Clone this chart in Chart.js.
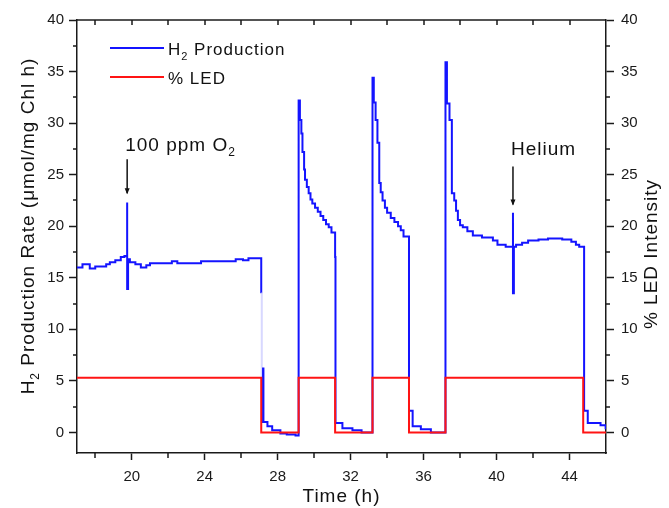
<!DOCTYPE html>
<html><head><meta charset="utf-8">
<script src="https://cdn.jsdelivr.net/npm/chart.js@4.4.1/dist/chart.umd.min.js"></script>
<style>html,body{margin:0;padding:0;background:#fff;}#wrap{width:669px;height:508px;}</style>
</head><body><div id="wrap"><canvas id="c" width="669" height="508"></canvas></div>
<script>
// ---- data ----
const h2Time = [17.0,17.3,17.7,18.0,18.6,18.8,19.1,19.4,19.6,19.75,19.75,19.8,19.9,20.2,20.5,20.8,21.0,22.2,22.5,23.8,25.7,26.1,26.4,
  27.1,27.13,27.2,27.22,27.44,27.7,28.15,28.5,28.98,
  29.15,29.22,29.3,29.36,29.45,29.5,29.6,29.7,29.8,29.9,30.05,30.2,30.35,30.5,30.65,30.8,30.95,
  31.15,31.17,31.55,32.1,32.6,
  33.2,33.27,33.37,33.47,33.57,33.65,33.75,33.88,34.0,34.2,34.4,34.6,34.75,34.9,
  35.2,35.4,35.85,36.4,
  37.2,37.28,37.42,37.55,37.68,37.78,37.88,38.0,38.15,38.4,38.7,39.2,39.8,40.05,40.5,40.9,40.9,40.95,41.07,41.4,41.73,42.3,42.82,43.6,44.1,44.35,44.53,
  44.8,45.0,45.7,45.98,46.0];
const h2Rate = [16.0,16.3,15.9,16.1,16.3,16.5,16.7,17.0,17.1,22.3,13.9,16.8,16.5,16.3,16.0,16.2,16.4,16.6,16.4,16.6,16.8,16.7,16.9,
  13.5,1.0,6.2,1.0,0.6,0.2,-0.1,-0.2,-0.3,
  32.2,30.3,29.0,27.2,25.5,24.5,23.8,23.2,22.6,22.2,21.8,21.4,21.0,20.6,20.2,19.9,19.4,
  17.0,0.9,0.4,0.2,0.0,
  34.4,32.0,30.3,28.1,24.2,23.3,22.5,21.8,21.3,20.8,20.4,20.0,19.6,19.0,
  2.1,0.6,0.3,0.0,
  35.9,31.9,30.3,23.2,22.5,21.5,20.6,20.1,19.9,19.5,19.1,18.9,18.6,18.2,18.0,21.3,13.5,18.0,18.2,18.4,18.6,18.7,18.8,18.7,18.5,18.2,18.0,
  2.1,0.9,0.7,0.4,0.4];
const ledTime = [17.0,27.1,29.15,31.15,33.2,35.2,37.2,44.75,46.0];
const ledPct  = [5.3,0,5.3,0,5.3,0,5.3,0,0];
const xMajorTicks = [20,24,28,32,36,40,44];
const xMinorTicks = [18,22,26,30,34,38,42];
const yMajorTicks = [0,5,10,15,20,25,30,35,40];
const yMinorTicks = [2.5,7.5,12.5,17.5,22.5,27.5,32.5,37.5];
const seriesNames = ['H₂ Production','% LED'];
const annotations = [
  {parts:[{t:'100 ppm O'},{t:'2',sub:true}], x:19.75, textY:27.3, arrowFrom:26.5, arrowTo:23.2},
  {parts:[{t:'Helium'}], x:40.9, textY:26.9, arrowFrom:25.8, arrowTo:22.1}
];

const FONT = '"Liberation Sans", Arial, sans-serif';
const AX = '#1a1a1a';

function richWidth(ctx, parts, size){
  let w=0;
  for(const p of parts){ ctx.font = (p.sub? Math.round(size*0.62): size)+'px '+FONT; w += ctx.measureText(p.t).width; }
  return w;
}
function drawRich(ctx, parts, x, y, size){
  let cx=x;
  for(const p of parts){
    ctx.font = (p.sub? Math.round(size*0.62): size)+'px '+FONT;
    ctx.fillText(p.t, cx, p.sub? y+size*0.28 : y);
    cx += ctx.measureText(p.t).width;
  }
}

const decor = {
  id:'decor',
  afterDatasetsDraw(chart){
    const {ctx, chartArea:a, scales} = chart;
    const xs=scales.x, ys=scales.y, ys1=scales.y1;
    ctx.save();
    ctx.strokeStyle=AX; ctx.lineWidth=1.5;
    ctx.beginPath(); ctx.moveTo(a.left, a.top); ctx.lineTo(a.right, a.top); ctx.stroke();
    ctx.beginPath();
    for(const v of xMajorTicks.concat(xMinorTicks)){ const px=Math.round(xs.getPixelForValue(v)); ctx.moveTo(px,a.top); ctx.lineTo(px,a.top+5); }
    for(const v of xMinorTicks){ const px=Math.round(xs.getPixelForValue(v)); ctx.moveTo(px,a.bottom); ctx.lineTo(px,a.bottom+5); }
    for(const v of yMinorTicks){ const py=Math.round(ys.getPixelForValue(v)); ctx.moveTo(a.left,py); ctx.lineTo(a.left-4,py);
      const py1=Math.round(ys1.getPixelForValue(v)); ctx.moveTo(a.right,py1); ctx.lineTo(a.right+4,py1); }
    ctx.stroke();

    // legend
    ctx.fillStyle='#111';
    ctx.textBaseline='alphabetic'; ctx.textAlign='left';
    ctx.letterSpacing='1px';
    const ds = chart.data.datasets;
    const legY=[48,77];
    for(let i=0;i<2;i++){
      ctx.strokeStyle=ds[i].borderColor; ctx.lineWidth=2;
      ctx.beginPath(); ctx.moveTo(110,legY[i]); ctx.lineTo(164,legY[i]); ctx.stroke();
    }
    drawRich(ctx,[{t:'H'},{t:'2',sub:true},{t:' Production'}],168,55,17);
    drawRich(ctx,[{t:'% LED'}],168,84,17);

    // annotations
    ctx.strokeStyle='#111'; ctx.fillStyle='#111'; ctx.lineWidth=1.5;
    for(const an of annotations){
      const px = xs.getPixelForValue(an.x);
      drawRich(ctx, an.parts, px-2, ys.getPixelForValue(an.textY), 19);
      const y0=ys.getPixelForValue(an.arrowFrom), y1=ys.getPixelForValue(an.arrowTo);
      ctx.beginPath(); ctx.moveTo(px,y0); ctx.lineTo(px,y1); ctx.stroke();
      ctx.beginPath(); ctx.moveTo(px,y1+1); ctx.lineTo(px-2.5,y1-5); ctx.lineTo(px+2.5,y1-5); ctx.closePath(); ctx.fill();
    }

    // axis titles
    ctx.fillStyle='#111';
    const xt=[{t:'Time (h)'}];
    let w=richWidth(ctx,xt,19);
    drawRich(ctx,xt,(a.left+a.right)/2 - w/2,502,19);
    const lt=[{t:'H'},{t:'2',sub:true},{t:' Production Rate (μmol/mg Chl h)'}];
    ctx.save(); ctx.translate(34,226); ctx.rotate(-Math.PI/2);
    w=richWidth(ctx,lt,19); drawRich(ctx,lt,-w/2,0,19); ctx.restore();
    const rt=[{t:'% LED Intensity'}];
    ctx.save(); ctx.translate(657,254); ctx.rotate(-Math.PI/2);
    w=richWidth(ctx,rt,19); drawRich(ctx,rt,-w/2,0,19); ctx.restore();
    ctx.restore();
  }
};

function yScale(pos, width, pad){
  return {
    type:'linear', position:pos, min:-2, max:40,
    afterBuildTicks: s => { s.ticks = yMajorTicks.map(v=>({value:v})); },
    afterFit: s => { s.width = width; },
    ticks:{ font:{family:FONT,size:15}, color:'#1a1a1a', padding:pad },
    grid:{ drawOnChartArea:false, drawTicks:true, tickLength:8, tickColor:AX, tickWidth:1.5 },
    border:{ display:true, color:AX, width:1.5 }
  };
}

const faint = 'rgba(200,200,255,0.7)';
new Chart(document.getElementById('c'), {
  type:'line',
  data:{
    datasets:[
      { label:seriesNames[0], data:h2Time.map((t,i)=>({x:t,y:h2Rate[i]})), borderColor:'#1414ff', borderWidth:2,
        pointRadius:0, stepped:true, yAxisID:'y', order:1,
        segment:{ borderColor: c => (c.p0.parsed.y > 10 && c.p1.parsed.y < 2 && c.p1.parsed.x < 28) ? faint : undefined } },
      { label:seriesNames[1], data:ledTime.map((t,i)=>({x:t,y:ledPct[i]})), borderColor:'#ff1414', borderWidth:2,
        pointRadius:0, stepped:true, yAxisID:'y1', order:0 }
    ]
  },
  options:{
    responsive:false, animation:false, devicePixelRatio:1,
    layout:{ padding:{top:20,left:0,right:0,bottom:0} },
    plugins:{ legend:{display:false}, tooltip:{enabled:false} },
    scales:{
      x:{ type:'linear', position:'bottom', min:17, max:46,
        afterBuildTicks: s => { s.ticks = xMajorTicks.map(v=>({value:v})); },
        afterFit: s => { s.height = 55; },
        ticks:{ font:{family:FONT,size:15}, color:'#1a1a1a', padding:8, maxRotation:0, autoSkip:false },
        grid:{ drawOnChartArea:false, drawTicks:true, tickLength:7, tickColor:AX, tickWidth:1.5 },
        border:{ display:true, color:AX, width:1.5 } },
      y: yScale('left',77,5),
      y1: yScale('right',63,7)
    }
  },
  plugins:[decor]
});
</script></body></html>
